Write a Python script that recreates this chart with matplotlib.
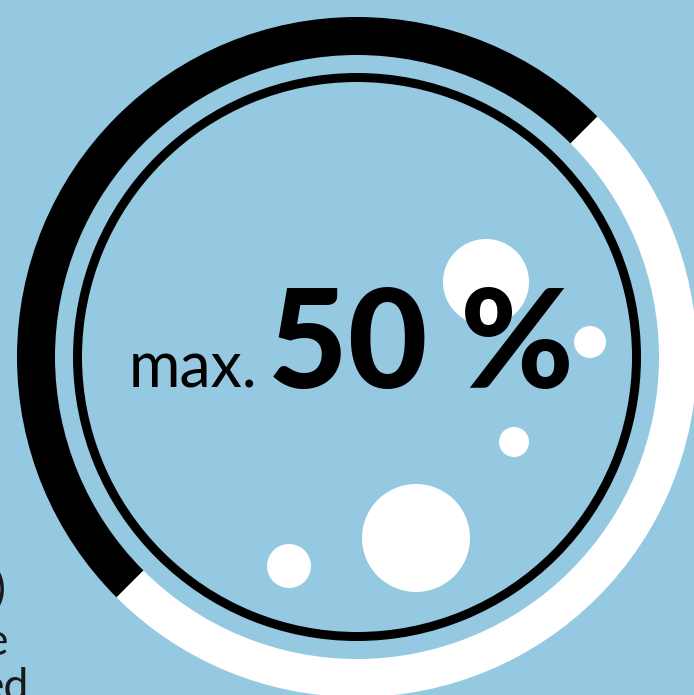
import matplotlib.pyplot as plt
from matplotlib.patches import Wedge, Circle

# Gauge data
gauge_value = 50          # percent filled
gauge_start = 225         # degrees, bottom-left, filling clockwise
label_prefix = "max."
label_value = "50 %"

# decorative bubbles (pixel coords, y from top)
bubble_x = [486, 590, 514, 416, 289]
bubble_y = [282, 342, 442, 538, 566]
bubble_r = [43, 16, 15, 54, 22]

# clipped paragraph text at the left edge
side_lines = [")", "e", "ed"]
side_x = [6, 8, 29]
side_y = [603, 655, 700]

bg = "#95c8e1"
cx, cy = 357, 357

fig = plt.figure(figsize=(6.94, 6.95), dpi=100)
fig.patch.set_facecolor(bg)
ax = fig.add_axes([0, 0, 1, 1])
ax.set_facecolor(bg)
ax.set_xlim(0, 694)
ax.set_ylim(695, 0)
ax.axis("off")

# outer ring: black = value, white = rest (y axis inverted -> negate angles)
end = gauge_start - gauge_value * 3.6
ax.add_patch(Wedge((cx, cy), 340, -gauge_start, -end, width=38, color="black", lw=0))
ax.add_patch(Wedge((cx, cy), 340, -end, 360 - gauge_start, width=38, color="white", lw=0))

# thin inner ring
ax.add_patch(Wedge((cx, cy), 284, 0, 360, width=9, color="black", lw=0))

for x, y, r in zip(bubble_x, bubble_y, bubble_r):
    ax.add_patch(Circle((x, y), r, color="white", lw=0))

ax.text(129, 388, label_prefix, fontsize=45, family="Lato", fontweight="normal",
        ha="left", va="baseline", color="black")
ax.text(268, 388, label_value, fontsize=99, family="Lato", fontweight="black",
        ha="left", va="baseline", color="black")

for s, x, y in zip(side_lines, side_x, side_y):
    ax.text(x, y, s, fontsize=32, family="Lato", ha="right", va="baseline",
            color="#1a1a1a")

fig.savefig("out.png", dpi=100, facecolor=bg)
